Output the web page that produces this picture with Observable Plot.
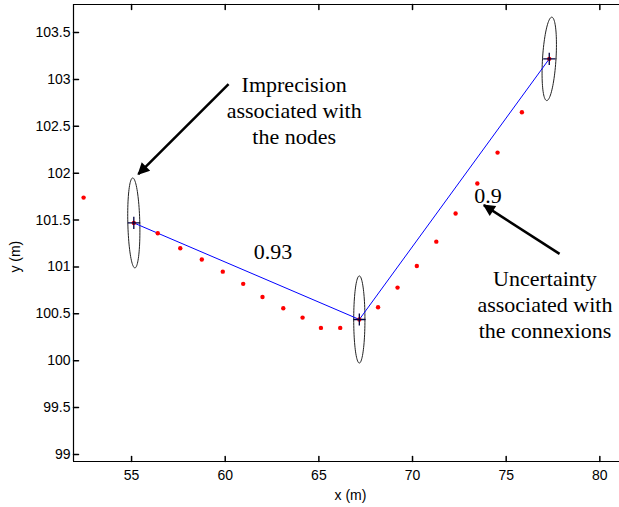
<!DOCTYPE html>
<html><head><meta charset="utf-8">
<script src="https://cdn.jsdelivr.net/npm/d3@7"></script>
<script src="https://cdn.jsdelivr.net/npm/@observablehq/plot@0.6"></script>
<style>body{margin:0;background:#fff}</style>
</head><body><div id="chart"></div>
<script>
// Nodes (estimated positions) and their imprecision ellipses
const nodeX = [55.12, 67.16, 77.30];
const nodeY = [101.47, 100.44, 103.22];
const ellipseRx = [0.32, 0.30, 0.36];
const ellipseRy = [0.48, 0.465, 0.445];
const ellipseLean = [-0.12, 0, 0.3];

// Red sample points
const sampleX = [52.44, 56.40, 57.60, 58.75, 59.87, 60.96, 61.99, 63.10, 64.13, 65.11, 66.14, 68.16, 69.20, 70.23, 71.27, 72.30, 73.46, 74.54, 75.84];
const sampleY = [101.74, 101.36, 101.20, 101.08, 100.95, 100.82, 100.68, 100.56, 100.46, 100.35, 100.35, 100.57, 100.78, 101.01, 101.27, 101.57, 101.89, 102.22, 102.65];

// Connexion weights
const weightLabels = ["0.93", "0.9"];
const weightX = [62.55, 74.03];
const weightY = [101.157, 101.754];

// Annotations
const noteLabels = ["Imprecision\nassociated with\nthe nodes", "Uncertainty\nassociated with\nthe connexions"];
const noteX = [63.68, 77.07];
const noteY = [103.063, 100.99];
const arrowX1 = [60.18, 77.85];
const arrowY1 = [102.95, 101.14];
const arrowX2 = [55.36, 73.81];
const arrowY2 = [101.99, 101.66];

// Axes
const xTicks = [55, 60, 65, 70, 75, 80];
const yTicks = [99, 99.5, 100, 100.5, 101, 101.5, 102, 102.5, 103, 103.5];
const xDomain = [51.9, 81.05];
const yDomain = [98.925, 103.8];
const xLabel = "x (m)";
const yLabel = "y (m)";
const yLabelPos = [48.81, 101.11];

// Build tables
const nodes = nodeX.map((x, i) => ({x, y: nodeY[i]}));
const samples = sampleX.map((x, i) => ({x, y: sampleY[i]}));
const ellipses = nodeX.flatMap((cx, i) =>
  d3.range(0, 361, 4).map(a => {
    const t = a * Math.PI / 180;
    const dy = ellipseRy[i] * Math.sin(t);
    return {k: i, x: cx + ellipseRx[i] * Math.cos(t) + ellipseLean[i] * dy, y: nodeY[i] + dy};
  })
);
const weights = weightLabels.map((t, i) => ({t, x: weightX[i], y: weightY[i]}));
const notes = noteLabels.map((t, i) => ({t, x: noteX[i], y: noteY[i]}));
const arrows = arrowX1.map((x1, i) => ({x1, y1: arrowY1[i], x2: arrowX2[i], y2: arrowY2[i]}));

const tickShape = {draw(context, l) { context.moveTo(0, 0); context.lineTo(0, -l); }};

function filledArrow(color, context) {
  return d3.create("svg:marker")
    .attr("viewBox", "0 -5 10 10")
    .attr("refX", 9)
    .attr("refY", 0)
    .attr("markerWidth", 16)
    .attr("markerHeight", 12)
    .attr("markerUnits", "userSpaceOnUse")
    .attr("orient", "auto")
    .call(m => m.append("path").attr("d", "M0,-5L10,0L0,5Z").attr("fill", color).attr("stroke", "none"))
    .node();
}

const serif = "'Liberation Serif', 'Times New Roman', serif";
const fmt = d => String(d);

const chart = Plot.plot({
  width: 619,
  height: 507,
  marginLeft: 73,
  marginRight: 0,
  marginTop: 4,
  marginBottom: 46,
  x: {domain: xDomain},
  y: {domain: yDomain},
  style: {fontFamily: "'Liberation Sans', Arial, sans-serif", fontSize: "14px", background: "#fff", color: "#000"},
  marks: [
    Plot.ruleY([yDomain[0], yDomain[1]], {stroke: "#000", strokeWidth: 1.2}),
    Plot.ruleX([xDomain[0]], {stroke: "#000", strokeWidth: 1.2}),
    Plot.vector(xTicks, {x: d => d, y: yDomain[0], length: 5, rotate: 0, anchor: "start", shape: tickShape, stroke: "#000"}),
    Plot.vector(xTicks, {x: d => d, y: yDomain[1], length: 5, rotate: 180, anchor: "start", shape: tickShape, stroke: "#000"}),
    Plot.vector(yTicks, {x: xDomain[0], y: d => d, length: 5, rotate: 90, anchor: "start", shape: tickShape, stroke: "#000"}),
    Plot.axisX(xTicks, {tickSize: 0, tickPadding: 9, tickFormat: fmt, label: null, fontSize: 14}),
    Plot.axisY(yTicks, {tickSize: 0, tickPadding: 3, tickFormat: fmt, label: null, fontSize: 14}),
    Plot.text([xLabel], {text: d => d, frameAnchor: "bottom", dx: 4, dy: 34, lineAnchor: "middle", fontSize: 14}),
    Plot.text([yLabel], {text: d => d, x: yLabelPos[0], y: yLabelPos[1], rotate: -90, lineAnchor: "middle", fontSize: 14}),
    Plot.line(ellipses, {x: "x", y: "y", z: "k", stroke: "#222", strokeWidth: 1, curve: "linear"}),
    Plot.line(nodes, {x: "x", y: "y", stroke: "#0000ff", strokeWidth: 1}),
    Plot.dot(samples, {x: "x", y: "y", r: 2.2, fill: "#ff0000", stroke: "none"}),
    Plot.dot(nodes, {x: "x", y: "y", r: 2.2, fill: "#ff0000", stroke: "none"}),
    Plot.dot(nodes, {x: "x", y: "y", r: 4, symbol: "plus", stroke: "#000040", strokeWidth: 1.3}),
    Plot.link(arrows, {x1: "x1", y1: "y1", x2: "x2", y2: "y2", stroke: "#000", strokeWidth: 2.5, markerEnd: filledArrow}),
    Plot.text(weights, {x: "x", y: "y", text: "t", fontFamily: serif, fontSize: 22, lineAnchor: "middle", textAnchor: "middle", fill: "#000"}),
    Plot.text(notes, {x: "x", y: "y", text: "t", fontFamily: serif, fontSize: 22, lineAnchor: "top", lineHeight: 1.18, textAnchor: "middle", fill: "#000"})
  ]
});
document.getElementById("chart").appendChild(chart);
</script>
</body></html>
